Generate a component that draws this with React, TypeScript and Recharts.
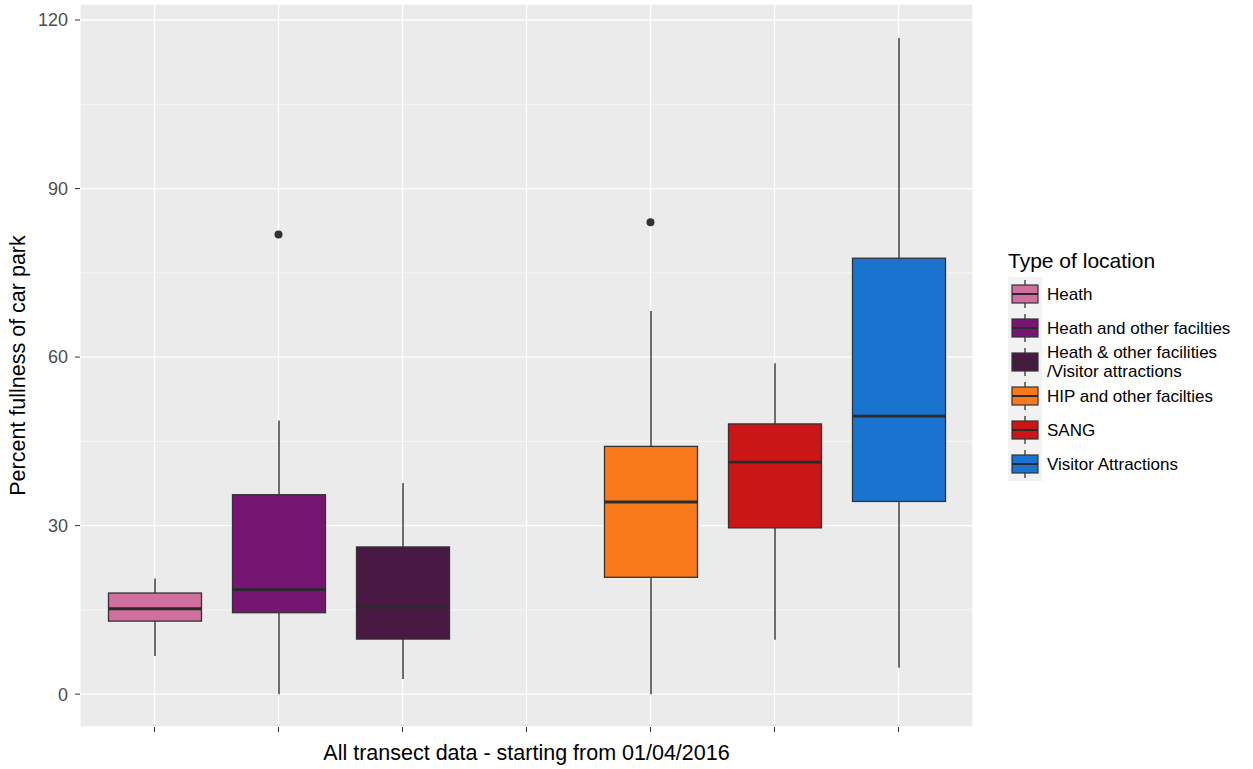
import {
    ComposedChart,
    Bar,
    Scatter,
    XAxis,
    YAxis,
    CartesianGrid,
    Cell,
    Label
} from 'recharts';

// x slots (the 4th one is empty in the original plot)
const slots = ['heath', 'heathOther', 'heathVisitor', 'gap', 'hip', 'sang', 'visitor'];
const lowerWhisker = [6.8, 0, 2.7, null, 0, 9.7, 4.7];
const lowerQuartile = [13.0, 14.5, 9.8, null, 20.8, 29.6, 34.3];
const medians = [15.2, 18.6, 15.5, null, 34.2, 41.3, 49.5];
const upperQuartile = [18.0, 35.5, 26.2, null, 44.1, 48.1, 77.6];
const upperWhisker = [20.6, 48.7, 37.6, null, 68.2, 58.9, 116.8];
const outliers = [null, 81.8, null, null, 84.0, null, null];
const fills = ['#d0709f', '#761672', '#4a1943', null, '#f97a1b', '#cb1618', '#1b73d0'];

const legendLabels = [
    ['Heath'],
    ['Heath and other facilties'],
    ['Heath & other facilities', '/Visitor attractions'],
    ['HIP and other facilties'],
    ['SANG'],
    ['Visitor Attractions']
];
const legendFills = ['#d0709f', '#761672', '#4a1943', '#f97a1b', '#cb1618', '#1b73d0'];

const majorTicks = [0, 30, 60, 90, 120];
const minorTicks = [15, 45, 75, 105];
const yDomain = [-5.85, 122.85];

const data = slots.map((slot, i) => ({
    slot,
    box: lowerQuartile[i] == null ? null : [lowerQuartile[i], upperQuartile[i]],
    low: lowerWhisker[i],
    q1: lowerQuartile[i],
    median: medians[i],
    q3: upperQuartile[i],
    high: upperWhisker[i],
    outlier: outliers[i]
}));

const FONT = 'Arial, "Liberation Sans", sans-serif';
const EDGE = '#333333';

// minor grid lines: use the axis scale when recharts hands it over, else map the domain onto the plot height
const minorLines = ({yAxis, offset}: any) => {
    const s = yAxis?.scale;
    if (typeof s === 'function') return minorTicks.map(v => s(v));
    if (s && typeof s.map === 'function') return minorTicks.map(v => s.map(v));
    const [lo, hi] = yDomain;
    return minorTicks.map(v => offset.top + ((hi - v) / (hi - lo)) * offset.height);
};

// box + whiskers, drawn from the bar rect that recharts gives for [q1, q3]
const BoxShape = (props: any) => {
    const {x, y, width, height, payload, fill} = props;
    if (!payload || payload.q1 == null || !height) return <g/>;
    const top = Math.min(y, y + height);
    const h = Math.abs(height);
    const bottom = top + h;
    const k = h / (payload.q3 - payload.q1);
    const toY = (v: number) => bottom - (v - payload.q1) * k;
    const cx = x + width / 2;
    return (
        <g>
            <line x1={cx} x2={cx} y1={toY(payload.high)} y2={top} stroke={EDGE} strokeWidth={1.4}/>
            <line x1={cx} x2={cx} y1={bottom} y2={toY(payload.low)} stroke={EDGE} strokeWidth={1.4}/>
            <rect x={x} y={top} width={width} height={h} fill={fill} stroke={EDGE} strokeWidth={1.3}/>
            <line x1={x} x2={x + width} y1={toY(payload.median)} y2={toY(payload.median)} stroke="#2a2a2a"
                  strokeWidth={2.8}/>
        </g>
    );
};

const OutlierDot = (props: any) => {
    const {cx, cy, payload} = props;
    if (!payload || payload.outlier == null || cx == null || cy == null) return <g/>;
    return <circle cx={cx} cy={cy} r={4} fill={EDGE}/>;
};

const LegendKey = ({fill}: { fill: string }) => (
    <svg width={34} height={34} style={{display: 'block'}}>
        <rect x={0} y={0} width={34} height={34} fill="#f2f2f2"/>
        <line x1={17} x2={17} y1={3} y2={31} stroke={EDGE} strokeWidth={1.3}/>
        <rect x={4} y={8} width={26} height={18} fill={fill} stroke={EDGE} strokeWidth={1.2}/>
        <line x1={4} x2={30} y1={17} y2={17} stroke="#2a2a2a" strokeWidth={2}/>
    </svg>
);

const LocationLegend = () => (
    <div style={{position: 'absolute', left: 1008, top: 249, fontFamily: FONT, color: '#000'}}>
        <div style={{fontSize: 21, lineHeight: '24px', marginBottom: 4}}>Type of location</div>
        {legendLabels.map((lines, i) => (
            <div key={i} style={{display: 'flex', alignItems: 'center', height: 34}}>
                <LegendKey fill={legendFills[i]}/>
                <div style={{marginLeft: 5, fontSize: 17, lineHeight: '19px', whiteSpace: 'nowrap'}}>
                    {lines.map((l, j) => <div key={j}>{l}</div>)}
                </div>
            </div>
        ))}
    </div>
);

export default function App() {
    return (
        <div style={{position: 'absolute', left: 0, top: 0, width: 1253, height: 769, background: '#fff', fontFamily: FONT}}>
            <ComposedChart width={1253} height={769} data={data}
                           margin={{top: 4, right: 280, bottom: 0, left: 0}}>
                <CartesianGrid fill="#ebebeb" stroke="#ffffff" strokeWidth={1.3}/>
                <CartesianGrid fill="none" stroke="#ffffff" strokeWidth={0.6} vertical={false}
                               horizontalCoordinatesGenerator={minorLines}/>
                <XAxis dataKey="slot" type="category" height={42} padding={{left: 12.5, right: 12.5}}
                       axisLine={false} tickLine={{stroke: EDGE}} tickSize={5} tickFormatter={() => ''}>
                    <Label content={({viewBox}: any) => (
                        <text x={viewBox.x + viewBox.width / 2} y={760} textAnchor="middle"
                              fontSize={21.5} fill="#000" fontFamily={FONT}>
                            All transect data - starting from 01/04/2016
                        </text>
                    )}/>
                </XAxis>
                <YAxis type="number" domain={yDomain} ticks={majorTicks} allowDataOverflow width={80}
                       axisLine={false} tickLine={{stroke: EDGE}} tickSize={5} tickMargin={7}
                       tick={{fill: '#4d4d4d', fontSize: 18, fontFamily: FONT}}>
                    <Label content={({viewBox}: any) => {
                        const cy = viewBox.y + viewBox.height / 2;
                        return (
                            <text x={25} y={cy} transform={`rotate(-90, 25, ${cy})`} textAnchor="middle"
                                  fontSize={21.5} fill="#000" fontFamily={FONT}>
                                Percent fullness of car park
                            </text>
                        );
                    }}/>
                </YAxis>
                <Bar dataKey="box" barSize={93} shape={<BoxShape/>} isAnimationActive={false}>
                    {data.map((d, i) => (
                        <Cell key={`box-${d.slot}`} fill={fills[i] ?? 'none'}/>
                    ))}
                </Bar>
                <Scatter dataKey="outlier" shape={<OutlierDot/>} isAnimationActive={false}/>
            </ComposedChart>
            <LocationLegend/>
        </div>
    );
}
